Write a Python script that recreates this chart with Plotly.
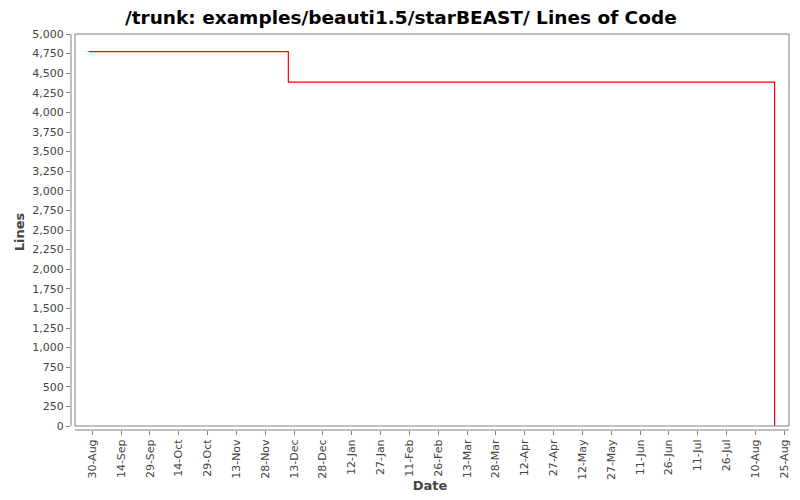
import plotly.graph_objects as go

# lines of code over time (step line, from svn stats)
dates = ["2009-08-28", "2009-12-10", "2009-12-10", "2010-08-20", "2010-08-20"]
lines = [4776, 4776, 4385, 4385, 0]

title = "/trunk: examples/beauti1.5/starBEAST/ Lines of Code"
y_ticks = list(range(0, 5001, 250))
y_labels = [f"{v:,}" for v in y_ticks]

fig = go.Figure()
fig.add_trace(go.Scatter(x=dates, y=lines, mode="lines",
                         line=dict(color="#ff0000", width=1.2),
                         showlegend=False))

# page body has an 8px margin, so the figure is 8px smaller each way
fig.update_layout(
    width=792, height=492,
    paper_bgcolor="white", plot_bgcolor="white",
    margin=dict(l=63, r=11, t=26, b=70, autoexpand=False),
    font=dict(family="DejaVu Sans", size=11, color="#444444"),
    title=dict(text="<b>" + title + "</b>", x=0.496, xanchor="center",
               xref="container", yref="container", y=0.981, yanchor="middle",
               font=dict(family="DejaVu Sans", size=18.5, color="black")),
)

fig.update_xaxes(
    type="date", range=["2009-08-18 22:00", "2010-08-27 12:00"],
    tick0="2009-08-30", dtick=15 * 86400000, tickformat="%d-%b",
    tickangle=-90, ticks="outside", ticklen=4, tickcolor="#808080",
    showgrid=False, zeroline=False, showline=False, automargin=False,
    title=dict(text="<b>Date</b>", font=dict(size=13, color="#444444"), standoff=1),
)
fig.update_yaxes(
    range=[-51, 5000], tickvals=y_ticks, ticktext=y_labels,
    ticks="outside", ticklen=4, tickcolor="#808080",
    showgrid=False, zeroline=False, showline=False, automargin=False,
    title=dict(text="<b>Lines</b>", font=dict(size=13, color="#444444"), standoff=4),
)

# inner border and offset axis lines
bx = 4 / 718
by = 4 / 396
fig.add_shape(type="rect", xref="paper", yref="paper", x0=bx, x1=1, y0=by, y1=1,
              line=dict(color="#808080", width=1))
fig.add_shape(type="line", xref="paper", yref="paper", x0=0, x1=0, y0=by, y1=1,
              line=dict(color="#808080", width=1))
fig.add_shape(type="line", xref="paper", yref="paper", x0=bx, x1=1, y0=0, y1=0,
              line=dict(color="#808080", width=1))

fig.write_html("out.html")
